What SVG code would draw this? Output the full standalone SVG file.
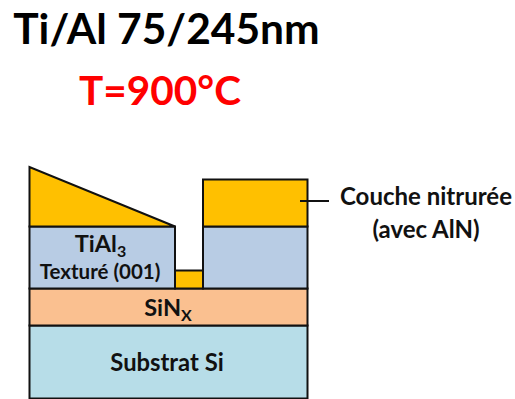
<svg xmlns="http://www.w3.org/2000/svg" width="515" height="399" viewBox="0 0 515 399">
<style>
.s{stroke:#111;stroke-width:2}
.t{font-family:Lato,"Liberation Sans",sans-serif;font-weight:700;fill:#111;text-anchor:middle}
.o{fill:#ffc000}.b{fill:#b8cce4}
</style>
<rect width="515" height="399" fill="#fff"/>
<g id="title"><text class="t" x="166.500" y="44" font-size="42.500" style="fill:#000">Ti/Al 75/245nm</text></g>
<g id="temperature"><text class="t" x="160" y="105" font-size="40.500" style="fill:#f00">T=900°C</text></g>
<g id="substrat"><rect class="s" x="29.500" y="325.500" width="278" height="73" fill="#b7dde8"/><text class="t" x="167" y="371" font-size="23.800">Substrat Si</text></g>
<g id="sinx"><rect class="s" x="29.500" y="288.500" width="278" height="37" fill="#fac090"/><text class="t" x="168" y="316" font-size="23.500">SiN<tspan font-size="16" dy="5">X</tspan></text></g>
<g id="tial3-gauche"><rect class="s b" x="29.500" y="226.500" width="145.500" height="62"/><text class="t" x="100.500" y="252" font-size="23.500">TiAl<tspan font-size="16" dy="5">3</tspan></text><text class="t" x="100" y="279" font-size="20.500">Texturé (001)</text></g>
<g id="tial3-droite"><rect class="s b" x="203" y="226.500" width="104.500" height="62"/></g>
<g id="nitrure-gauche"><path class="s o" d="M29.500 167V226.500H175Z"/></g>
<g id="nitrure-droite"><rect class="s o" x="203" y="179.500" width="104.500" height="47"/></g>
<g id="nitrure-centre"><rect class="s o" x="175" y="270.500" width="28" height="18"/></g>
<g id="connectors"><line x1="300" y1="201" x2="329" y2="201" stroke="#111" stroke-width="2"/></g>
<g id="label-couche"><text class="t" x="426" y="205" font-size="24">Couche nitrurée</text><text class="t" x="426" y="238" font-size="24">(avec AlN)</text></g>
</svg>
